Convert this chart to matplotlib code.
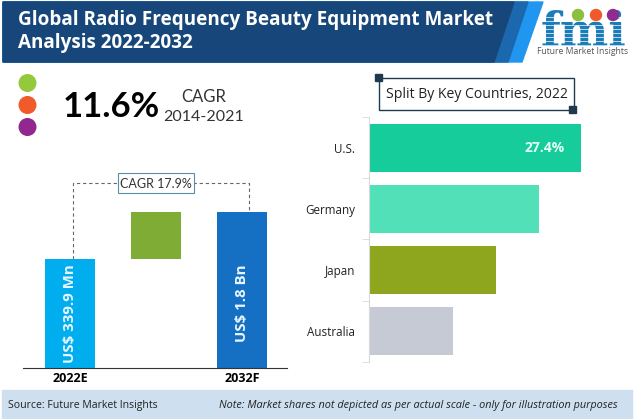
import matplotlib
matplotlib.use("Agg")
import matplotlib.pyplot as plt
from matplotlib.patches import Polygon, Rectangle, Circle

W, H = 634, 419

# left chart, bar heights as drawn (not to scale, see the note in the footer)
years = ["2022E", "2032F"]
bar_heights = [109, 156]
bar_labels = ["US$ 339.9 Mn", "US$ 1.8 Bn"]

# right chart
countries = ["U.S.", "Germany", "Japan", "Australia"]
shares = [27.4, 22.0, 16.4, 10.9]
share_colors = ["#16CC9B", "#52E0B8", "#8EA61E", "#C5CAD5"]

plt.rcParams['font.family'] = ['Open Sans', 'DejaVu Sans']

fig = plt.figure(figsize=(W / 100, H / 100), dpi=100)

# overlay in image pixels for header, footer and decorations
bg = fig.add_axes([0, 0, 1, 1])
bg.set_xlim(0, W)
bg.set_ylim(H, 0)
bg.axis('off')


def axes_px(x0, y0, x1, y1):
    # y0 top, y1 bottom, image pixels
    return fig.add_axes([x0 / W, 1 - y1 / H, (x1 - x0) / W, (y1 - y0) / H])


# --- header ---
bg.add_patch(Polygon([(543, 2), (522, 62), (3, 62), (3, 2)], color="#2196F0", zorder=1))
bg.add_patch(Polygon([(528, 2), (508, 62), (3, 62), (3, 2)], color="#1B68AE", zorder=2))
bg.add_patch(Polygon([(514, 2), (494, 62), (3, 62), (3, 2)], color="#17477A", zorder=3))
bg.text(18, 20, "Global Radio Frequency Beauty Equipment Market", color="white", fontsize=13.6,
        fontweight='bold', va='center', ha='left', zorder=5)
bg.text(18, 43, "Analysis 2022-2032", color="white", fontsize=13.6,
        fontweight='bold', va='center', ha='left', zorder=5)

# --- logo ---
bg.text(584, 46, "fmi", color="#1B7DB8", fontsize=33, fontweight='bold', family=['DejaVu Serif'],
        va='baseline', ha='center', zorder=5)
for y in range(17, 48, 4):
    bg.plot([540, 630], [y, y], color="white", lw=0.5, zorder=6)
bg.text(583, 52, "Future Market Insights", color="#555555", fontsize=6.2, va='center', ha='center', zorder=7)
for cx, c in zip([578, 596, 613], ["#8CBF3F", "#F0592B", "#8E2C90"]):
    bg.add_patch(Circle((cx, 15), 5.5, color=c, zorder=8))

# --- CAGR block ---
for cy, c in zip([83, 105, 127], ["#95C93D", "#F15A29", "#92278F"]):
    bg.add_patch(Circle((27.5, cy), 8.3, color=c))
bg.text(63, 107, "11.6%", fontsize=25, fontweight='bold', family=['Lato'], va='center', ha='left', color="black")
bg.text(204, 97, "CAGR", fontsize=12, family=['Lato'], va='center', ha='center', color="#333333")
bg.text(204, 117, "2014-2021", fontsize=11.5, family=['Lato'], va='center', ha='center', color="#333333")

# --- left bars ---
# one x unit is one bar width (50 px)
ax = axes_px(23, 160, 287, 368)
ax.patch.set_alpha(0)
ax.set_xlim(-0.44, 4.84)
ax.set_ylim(0, 208)
pos = [0.0, 3.44]
ax.bar(pos, bar_heights, width=1, align='edge', color=["#00AEEF", "#1570C4"], zorder=2)
ax.bar([1.72], [bar_heights[1] - bar_heights[0]], bottom=bar_heights[0], width=1, align='edge',
       color="#7FAC35", zorder=2)
for p, lab, yc in zip(pos, bar_labels, [54, 64.5]):
    ax.text(p + 0.5, yc, lab, rotation=90, color="#E8F6FF", fontsize=10.8, fontweight='bold',
            va='center', ha='center', zorder=3)
ax.set_xticks([p + 0.5 for p in pos])
ax.set_xticklabels(years, fontsize=9, fontweight='bold')
ax.tick_params(length=0, pad=3)
ax.set_yticks([])
for s in ['top', 'left', 'right']:
    ax.spines[s].set_visible(False)
ax.spines['bottom'].set_color("#333333")

# dashed bracket and CAGR box
dash = dict(color="#666666", lw=0.8, ls=(0, (3, 2.5)), zorder=1)
bg.plot([72.5, 72.5, 117], [259, 183, 183], **dash)
bg.plot([193, 248.5, 248.5], [183, 183, 212], **dash)
bg.add_patch(Rectangle((117.5, 173.5), 76, 20, fc="white", ec="#5B8FA8", lw=0.8, zorder=2))
bg.text(155.5, 183.5, "CAGR 17.9%", fontsize=9, family=['Lato'], va='center', ha='center',
        color="#333333", zorder=3)

# --- right bars ---
ax2 = axes_px(369, 117, 593, 362)
ax2.patch.set_alpha(0)
ax2.set_xlim(0, 28.95)
ax2.set_ylim(3.5, -0.5)
ax2.barh(range(len(countries)), shares, height=0.78, color=share_colors, zorder=2)
ax2.set_yticks(range(len(countries)))
ax2.set_yticklabels(countries, fontsize=8.4, color="#222222")
ax2.set_yticks([-0.5, 0.5, 1.5, 2.5, 3.5], minor=True)
ax2.tick_params(axis='y', which='major', length=0, pad=10)
ax2.tick_params(axis='y', which='minor', length=5, color="#D9D9D9")
ax2.set_xticks([])
for s in ['top', 'bottom', 'right']:
    ax2.spines[s].set_visible(False)
ax2.spines['left'].set_color("#D9D9D9")
ax2.text(shares[0] - 4.7, 0, f"{shares[0]}%", color="#E6FFF6", fontsize=10, fontweight='bold',
         va='center', ha='center', zorder=3)

# title box above the bars
bg.add_patch(Rectangle((378.5, 78.5), 195, 32, fc="white", ec="#1F3A4F", lw=1, zorder=3))
bg.text(476.5, 94, "Split By Key Countries, 2022", fontsize=10.1, va='center', ha='center', color="#222222", zorder=4)
for cx, cy in [(378, 78), (572, 109)]:
    bg.add_patch(Rectangle((cx - 3.5, cy - 3.5), 7, 7, color="#1F3A4F", zorder=5))

# --- footer ---
bg.add_patch(Rectangle((2, 390), 630, 29, color="#CEDFF0", zorder=1))
bg.text(8, 405, "Source: Future Market Insights", fontsize=7.6, va='center', ha='left', color="#222222", zorder=2)
bg.text(219, 405, "Note: Market shares not depicted as per actual scale - only for illustration purposes",
        fontsize=7.85, style='italic', va='center', ha='left', color="#222222", zorder=2)

fig.savefig("out.png", dpi=100)
